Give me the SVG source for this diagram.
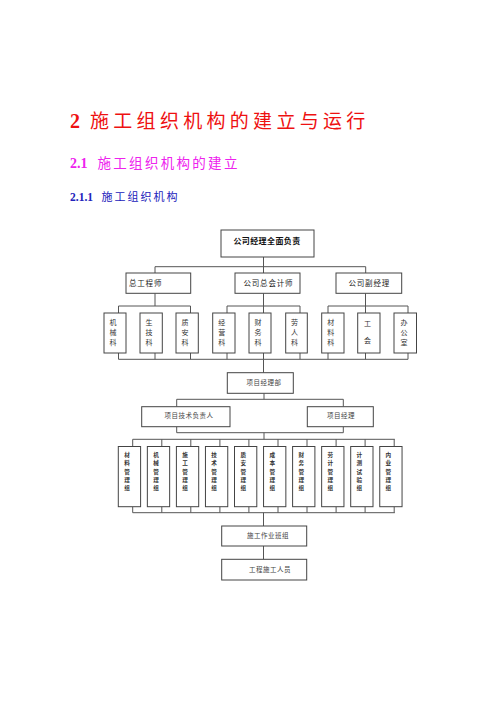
<svg xmlns="http://www.w3.org/2000/svg" width="500" height="707" viewBox="0 0 500 707">
<style>
.bg{fill:#fff}
.box{fill:#fff;stroke:#444;stroke-width:1}
.ln{fill:none;stroke:#555;stroke-width:1}
.cjk{font-family:"Noto Sans CJK SC","Noto Sans",sans-serif}
.num{font-family:"Liberation Serif",serif;font-weight:bold}
.t1{font-size:8px;font-weight:bold;fill:#111}
.t2{font-size:7.5px;fill:#222;letter-spacing:0.8px}
.t3{font-size:7px;fill:#333}
.t4{font-size:6.5px;fill:#444;letter-spacing:0.5px}
.t5{font-size:5.6px;fill:#333;font-weight:bold}
</style>
<rect class="bg" x="0" y="0" width="500" height="707"/>
<g id="headings">
<text x="70" y="127.5" fill="#ee1111"><tspan class="num" font-size="20">2</tspan><tspan class="cjk" x="90" font-size="19" letter-spacing="4.3">施工组织机构的建立与运行</tspan></text>
<text x="70" y="167.5" fill="#ee22ee"><tspan class="num" font-size="14">2.1</tspan><tspan class="cjk" x="97.5" font-size="13.5" letter-spacing="2.3">施工组织机构的建立</tspan></text>
<text x="70" y="200.5" fill="#2222bb"><tspan class="num" font-size="11.5">2.1.1</tspan><tspan class="cjk" x="101.5" font-size="11" letter-spacing="2">施工组织机构</tspan></text>
</g>
<g id="connectors">
<path class="ln" d="M263.5,257V273M155,266.7H365.7M155,266.7V273M365.7,266.7V273"/>
<path class="ln" d="M155,293.3V306M118.5,306H190.5M118.5,306V313M190.5,306V313"/>
<path class="ln" d="M263.5,293.3V313M227,306H300M227,306V313M300,306V313"/>
<path class="ln" d="M365.5,293.3V313M328,306H408M328,306V313M408,306V313"/>
<path class="ln" d="M118.5,353V359.3M155,353V359.3M190.5,353V359.3M227,353V359.3M263.5,353V359.3M300,353V359.3M328,353V359.3M365.5,353V359.3M408,353V359.3M118.5,359.3H408"/>
<path class="ln" d="M263.5,359.3V372.7M264,393.3V399.3M176.7,399.3H343.3M176.7,399.3V406.7M343.3,399.3V406.7"/>
<path class="ln" d="M176.7,426.7V432.7M343.3,426.7V432.7M176.7,432.7H343.3M264,432.7V439.3M132.7,439.3H394.8"/>
<path class="ln" d="M132.7,439.3V446.5M161.8,439.3V446.5M190.8,439.3V446.5M219.9,439.3V446.5M248.9,439.3V446.5M278,439.3V446.5M307,439.3V446.5M336.1,439.3V446.5M365.1,439.3V446.5M394.2,439.3V446.5"/>
<path class="ln" d="M132.7,506.7V512.7M161.8,506.7V512.7M190.8,506.7V512.7M219.9,506.7V512.7M248.9,506.7V512.7M278,506.7V512.7M307,506.7V512.7M336.1,506.7V512.7M365.1,506.7V512.7M394.2,506.7V512.7M132.7,512.7H394.8"/>
<path class="ln" d="M263.5,512.7V526M263.5,546V559.3"/>
</g>
<g id="n-top"><rect class="box" x="221" y="230" width="93" height="27"/><text class="cjk t1" x="267" y="240" text-anchor="middle" dominant-baseline="central" letter-spacing="0.4">公司经理全面负责</text></g>
<g id="n-zgcs"><rect class="box" x="126" y="273" width="64.7" height="20.3"/><text class="cjk t2" x="129" y="282" dominant-baseline="central">总工程师</text></g>
<g id="n-zkjs"><rect class="box" x="235" y="273" width="65" height="20.3"/><text class="cjk t2" x="243.5" y="282" dominant-baseline="central">公司总会计师</text></g>
<g id="n-fjl"><rect class="box" x="336" y="273" width="65.7" height="20.3"/><text class="cjk t2" x="348.5" y="282" dominant-baseline="central">公司副经理</text></g>
<g id="n-jxk"><rect class="box" x="104" y="313" width="22" height="40"/><text class="cjk t3" text-anchor="middle" dominant-baseline="central"><tspan x="113" y="322">机</tspan><tspan x="113" y="332">械</tspan><tspan x="113" y="342">科</tspan></text></g>
<g id="n-sjk"><rect class="box" x="140" y="313" width="22.3" height="40"/><text class="cjk t3" text-anchor="middle" dominant-baseline="central"><tspan x="149" y="322">生</tspan><tspan x="149" y="332">技</tspan><tspan x="149" y="342">科</tspan></text></g>
<g id="n-zak"><rect class="box" x="176" y="313" width="22.3" height="40"/><text class="cjk t3" text-anchor="middle" dominant-baseline="central"><tspan x="185" y="322">质</tspan><tspan x="185" y="332">安</tspan><tspan x="185" y="342">科</tspan></text></g>
<g id="n-jyk"><rect class="box" x="212.7" y="313" width="22.3" height="40"/><text class="cjk t3" text-anchor="middle" dominant-baseline="central"><tspan x="221.7" y="322">经</tspan><tspan x="221.7" y="332">营</tspan><tspan x="221.7" y="342">科</tspan></text></g>
<g id="n-cwk"><rect class="box" x="249" y="313" width="22" height="40"/><text class="cjk t3" text-anchor="middle" dominant-baseline="central"><tspan x="258" y="322">财</tspan><tspan x="258" y="332">务</tspan><tspan x="258" y="342">科</tspan></text></g>
<g id="n-lrk"><rect class="box" x="285.7" y="313" width="21.6" height="40"/><text class="cjk t3" text-anchor="middle" dominant-baseline="central"><tspan x="294.5" y="322">劳</tspan><tspan x="294.5" y="332">人</tspan><tspan x="294.5" y="342">科</tspan></text></g>
<g id="n-clk"><rect class="box" x="321.7" y="313" width="22.3" height="40"/><text class="cjk t3" text-anchor="middle" dominant-baseline="central"><tspan x="330.7" y="322">材</tspan><tspan x="330.7" y="332">料</tspan><tspan x="330.7" y="342">科</tspan></text></g>
<g id="n-gh"><rect class="box" x="357.7" y="313" width="22.3" height="40"/><text class="cjk t3" text-anchor="middle" dominant-baseline="central"><tspan x="367.5" y="323">工</tspan><tspan x="367.5" y="340">会</tspan></text></g>
<g id="n-bgs"><rect class="box" x="394" y="313" width="22.5" height="40"/><text class="cjk t3" text-anchor="middle" dominant-baseline="central"><tspan x="404" y="322">办</tspan><tspan x="404" y="332">公</tspan><tspan x="404" y="342">室</tspan></text></g>
<g id="n-xmjlb"><rect class="box" x="227.3" y="372.7" width="66" height="20.6"/><text class="cjk t4" x="264" y="381.5" text-anchor="middle" dominant-baseline="central">项目经理部</text></g>
<g id="n-jsfzr"><rect class="box" x="141.7" y="406.7" width="88.3" height="20"/><text class="cjk t4" x="189" y="414.5" text-anchor="middle" dominant-baseline="central">项目技术负责人</text></g>
<g id="n-xmjl"><rect class="box" x="307.3" y="406.7" width="66" height="20"/><text class="cjk t4" x="341" y="414.5" text-anchor="middle" dominant-baseline="central">项目经理</text></g>
<g id="n-g1"><rect class="box" x="118.3" y="446.5" width="22.3" height="60.2"/><text class="cjk t5" text-anchor="middle" dominant-baseline="central"><tspan x="127" y="455">材</tspan><tspan x="127" y="463.3">料</tspan><tspan x="127" y="471.6">管</tspan><tspan x="127" y="479.9">理</tspan><tspan x="127" y="488.2">组</tspan></text></g>
<g id="n-g2"><rect class="box" x="147.35" y="446.5" width="22.3" height="60.2"/><text class="cjk t5" text-anchor="middle" dominant-baseline="central"><tspan x="156" y="455">机</tspan><tspan x="156" y="463.3">械</tspan><tspan x="156" y="471.6">管</tspan><tspan x="156" y="479.9">理</tspan><tspan x="156" y="488.2">组</tspan></text></g>
<g id="n-g3"><rect class="box" x="176.4" y="446.5" width="22.3" height="60.2"/><text class="cjk t5" text-anchor="middle" dominant-baseline="central"><tspan x="185.1" y="455">施</tspan><tspan x="185.1" y="463.3">工</tspan><tspan x="185.1" y="471.6">管</tspan><tspan x="185.1" y="479.9">理</tspan><tspan x="185.1" y="488.2">组</tspan></text></g>
<g id="n-g4"><rect class="box" x="205.45" y="446.5" width="22.3" height="60.2"/><text class="cjk t5" text-anchor="middle" dominant-baseline="central"><tspan x="214.1" y="455">技</tspan><tspan x="214.1" y="463.3">术</tspan><tspan x="214.1" y="471.6">管</tspan><tspan x="214.1" y="479.9">理</tspan><tspan x="214.1" y="488.2">组</tspan></text></g>
<g id="n-g5"><rect class="box" x="234.5" y="446.5" width="22.3" height="60.2"/><text class="cjk t5" text-anchor="middle" dominant-baseline="central"><tspan x="243.2" y="455">质</tspan><tspan x="243.2" y="463.3">安</tspan><tspan x="243.2" y="471.6">管</tspan><tspan x="243.2" y="479.9">理</tspan><tspan x="243.2" y="488.2">组</tspan></text></g>
<g id="n-g6"><rect class="box" x="263.55" y="446.5" width="22.3" height="60.2"/><text class="cjk t5" text-anchor="middle" dominant-baseline="central"><tspan x="272.2" y="455">成</tspan><tspan x="272.2" y="463.3">本</tspan><tspan x="272.2" y="471.6">管</tspan><tspan x="272.2" y="479.9">理</tspan><tspan x="272.2" y="488.2">组</tspan></text></g>
<g id="n-g7"><rect class="box" x="292.6" y="446.5" width="22.3" height="60.2"/><text class="cjk t5" text-anchor="middle" dominant-baseline="central"><tspan x="301.3" y="455">财</tspan><tspan x="301.3" y="463.3">务</tspan><tspan x="301.3" y="471.6">管</tspan><tspan x="301.3" y="479.9">理</tspan><tspan x="301.3" y="488.2">组</tspan></text></g>
<g id="n-g8"><rect class="box" x="321.65" y="446.5" width="22.3" height="60.2"/><text class="cjk t5" text-anchor="middle" dominant-baseline="central"><tspan x="330.3" y="455">劳</tspan><tspan x="330.3" y="463.3">计</tspan><tspan x="330.3" y="471.6">管</tspan><tspan x="330.3" y="479.9">理</tspan><tspan x="330.3" y="488.2">组</tspan></text></g>
<g id="n-g9"><rect class="box" x="350.7" y="446.5" width="22.3" height="60.2"/><text class="cjk t5" text-anchor="middle" dominant-baseline="central"><tspan x="359.4" y="455">计</tspan><tspan x="359.4" y="463.3">测</tspan><tspan x="359.4" y="471.6">试</tspan><tspan x="359.4" y="479.9">验</tspan><tspan x="359.4" y="488.2">组</tspan></text></g>
<g id="n-g10"><rect class="box" x="379.75" y="446.5" width="22.3" height="60.2"/><text class="cjk t5" text-anchor="middle" dominant-baseline="central"><tspan x="388.4" y="455">内</tspan><tspan x="388.4" y="463.3">业</tspan><tspan x="388.4" y="471.6">管</tspan><tspan x="388.4" y="479.9">理</tspan><tspan x="388.4" y="488.2">组</tspan></text></g>
<g id="n-bz"><rect class="box" x="221.7" y="526" width="85" height="20"/><text class="cjk t4" x="268" y="534.5" text-anchor="middle" dominant-baseline="central">施工作业班组</text></g>
<g id="n-ry"><rect class="box" x="221.7" y="559.3" width="85" height="20.7"/><text class="cjk t4" x="270" y="568.5" text-anchor="middle" dominant-baseline="central">工程施工人员</text></g>
</svg>
